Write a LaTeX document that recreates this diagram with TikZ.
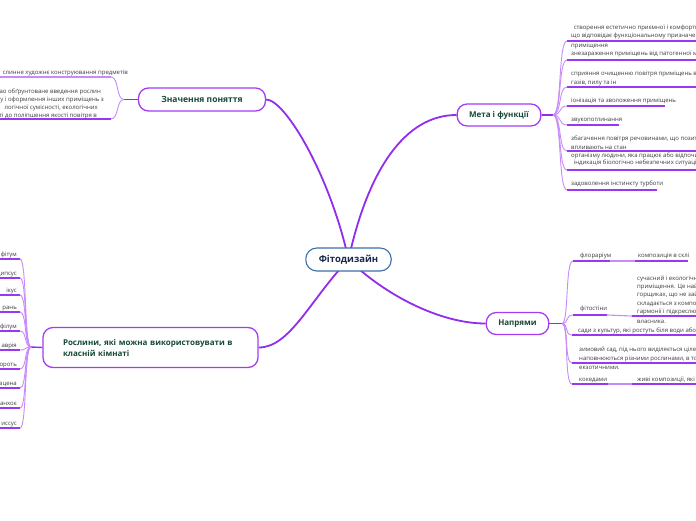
\documentclass[tikz,border=0pt]{standalone}
\usepackage{fontspec}
\setmainfont{Open Sans}
\usetikzlibrary{backgrounds}
\pgfdeclarelayer{bottom}
\pgfsetlayers{bottom,background,main}
\definecolor{mainline}{RGB}{145,45,235}
\definecolor{nodeborder}{RGB}{165,60,245}
\definecolor{fanline}{RGB}{200,140,250}
\definecolor{uline}{RGB}{155,55,240}
\definecolor{ttext}{RGB}{22,72,56}
\definecolor{ctext}{RGB}{25,40,75}
\definecolor{cborder}{RGB}{60,110,170}
\definecolor{leaftext}{RGB}{60,60,60}
\tikzset{
  topic/.style={draw=nodeborder, line width=1.3pt, fill=white, rounded corners=10pt,
    font=\fontsize{8}{11}\selectfont\bfseries, text=ttext, inner xsep=12pt, inner ysep=0pt,
    minimum height=22pt, align=center},
  central/.style={draw=cborder, line width=1.1pt, fill=white, rounded corners=11pt,
    font=\fontsize{9.5}{11}\selectfont\bfseries, text=ctext, inner xsep=13pt, inner ysep=0pt,
    minimum height=23pt},
  leaf/.style={inner sep=0pt, font=\fontsize{6}{9}\selectfont, text=leaftext},
  leafz/.style={inner sep=0pt, font=\fontsize{6}{9}\selectfont, text=leaftext},
  mainconn/.style={draw=mainline, line width=1.8pt},
  stem/.style={draw=mainline, line width=1.4pt},
  fanconn/.style={draw=fanline, line width=0.9pt},
  ulinestyle/.style={draw=uline, line width=1.4pt},
  faintline/.style={draw=fanline, line width=1.1pt},
}
\begin{document}
\begin{tikzpicture}[x=1pt,y=-1pt]
\useasboundingbox (0,0) rectangle (696,520);
\clip (0,0) rectangle (696,520);
\begin{pgfonlayer}{bottom}
  \fill[white] (0,0) rectangle (696,520);
\end{pgfonlayer}

% main nodes
\node[central] (c) at (348.5,259.5) {Фітодизайн};
\node[topic] (meta) at (499,115) {Мета і функції};
\node[topic, font=\fontsize{8.5}{11}\selectfont\bfseries, minimum width=127pt, minimum height=23pt] (znach) at (202,99.5) {Значення поняття};
\node[topic] (napr) at (517.5,323.5) {Напрями};
\node[topic, text width=175pt, inner xsep=20pt, align=left, minimum height=40pt] (rosl) at (150.5,347.5)
  {Рослини, які можна використовувати в\\класній кімнаті};

% junctions
\coordinate (jm) at (553,115);
\coordinate (jz) at (124,99.5);
\coordinate (jn) at (562,323.5);
\coordinate (jr) at (31,347);

% ---------- Мета і функції leaves
\node[leaf, anchor=base west] (m1a) at (572,29) {\ створення естетично приємної і комфортної};
\node[leaf, anchor=base west] (m1b) at (571,37.5) {що відповідає функціональному призначенню};
\node[leaf, anchor=base west] (m1c) at (571,47) {приміщення};
\node[leaf, anchor=base west] (m2) at (571,55) {знезараження приміщень від патогенної мікрофлори};
\node[leaf, anchor=base west] (m3a) at (571,75) {сприяння очищенню повітря приміщень від};
\node[leaf, anchor=base west] (m3b) at (571,84) {газів, пилу та ін};
\node[leaf, anchor=base west] (m4) at (571,102) {іонізація та зволоження приміщень};
\node[leaf, anchor=base west] (m5) at (571,121) {звукопоглинання};
\node[leaf, anchor=base west] (m6a) at (571,140.5) {збагачення повітря речовинами, що позитивно};
\node[leaf, anchor=base west] (m6b) at (571,149) {впливають на стан};
\node[leaf, anchor=base west] (m6c) at (571,157.5) {організму людини, яка працює або відпочиває};
\node[leaf, anchor=base west] (m7) at (572,164.5) {\ індикація біологічно небезпечних ситуацій};
\node[leaf, anchor=base west] (m8) at (571,185) {задоволення інстинкту турботи};

% ---------- Значення поняття leaves
\node[leafz, anchor=base east] (z1) at (128,74) {слинне художнє конструювання предметів};
\node[leafz, anchor=base east] (z2a) at (101,93) {ао обґрунтоване введення рослин};
\node[leafz, anchor=base east] (z2b) at (104,101) {у і оформлення інших приміщень з};
\node[leafz, anchor=base east] (z2c) at (98,109) {логічної сумісності, екологічних};
\node[leafz, anchor=base east] (z2d) at (97,117) {ті до поліпшення якості повітря в};

% ---------- Напрями leaves
\node[leaf, anchor=base west] (n1) at (580,257) {флораріум};
\node[leaf, anchor=base west] (n1r) at (638,257) {композиція в склі};
\node[leaf, anchor=base west] (n2) at (580,310) {фітостіни};
\node[leaf, anchor=base west] (n2a) at (637,280) {сучасний і екологічний};
\node[leaf, anchor=base west] (n2b) at (637,288.5) {приміщення. Це найкращий};
\node[leaf, anchor=base west] (n2c) at (637,296.5) {горщиках, що не займають};
\node[leaf, anchor=base west] (n2d) at (637,305) {складається з композицій};
\node[leaf, anchor=base west] (n2e) at (637,313) {гармонії і підкреслює};
\node[leaf, anchor=base west] (n2f) at (637,323) {власника.};
\node[leaf, anchor=base west] (n3) at (578,332) {сади з культур, які ростуть біля води або};
\node[leaf, anchor=base west] (n4a) at (579,351) {зимовий сад, під нього виділяється ціле};
\node[leaf, anchor=base west] (n4b) at (579,360) {наповнюються різними рослинами, в тому};
\node[leaf, anchor=base west] (n4c) at (579,369) {екзотичними.};
\node[leaf, anchor=base west] (n5) at (579,381) {кокедами};
\node[leaf, anchor=base west] (n5r) at (637,381) {живі композиції, які};

% ---------- Рослини leaves
\foreach \i/\y/\t in {1/259/фітум, 2/278/ципсус, 3/295/ікус, 4/312/рань, 5/331/філум,
                     6/350/аврія, 7/369/ороть, 8/388/ацена, 9/408/анхоє, 10/428/иссус} {
  \node[leaf, anchor=base east] (r\i) at (17,\y-2.5) {\t};
  \coordinate (r\i s) at (0,\y);
  \coordinate (r\i e) at (20,\y);
}

% underline coordinates: Мета
\foreach \i/\y/\xe in {1/41/696, 2/60/696, 3/87/696, 4/106/665, 5/125/619, 6/151/696, 7/170/696, 8/190/657} {
  \coordinate (m\i s) at (567,\y);
  \coordinate (m\i e) at (\xe,\y);
}
% underline coordinates: Значення
\coordinate (z1s) at (0,77);   \coordinate (z1e) at (111,77);
\coordinate (z2s) at (0,119);  \coordinate (z2e) at (111,119);
% underline coordinates: Напрями
\coordinate (n1s) at (573,261);  \coordinate (n1e) at (610,261);
\coordinate (n1rs) at (635,261); \coordinate (n1re) at (688,261);
\coordinate (n2s) at (573,315);  \coordinate (n2e) at (607,315);
\coordinate (n2rs) at (632,316); \coordinate (n2re) at (696,316);
\coordinate (n3s) at (572,335);  \coordinate (n3e) at (696,335);
\coordinate (n4s) at (572,363);  \coordinate (n4e) at (696,363);
\coordinate (n5s) at (572,384);  \coordinate (n5e) at (608,384);
\coordinate (n5rs) at (632,384); \coordinate (n5re) at (696,384);

\begin{pgfonlayer}{background}
  % main connectors
  \draw[mainconn] (c.center) .. controls (368,170) and (405,115) .. (meta.west);
  \draw[mainconn] (c.center) .. controls (330,175) and (285,99.5) .. (znach.east);
  \draw[mainconn] (c.center) .. controls (385,295) and (440,323.5) .. (napr.west);
  \draw[mainconn] (c.center) .. controls (310,300) and (290,347.5) .. (rosl.east);

  % stems
  \draw[stem] (meta.east) -- (jm);
  \draw[stem] (znach.west) -- (jz);
  \draw[stem] (napr.east) -- (jn);
  \draw[stem] (rosl.west) -- (jr);

  % Мета fan + underlines
  \foreach \i in {1,...,8} {
    \draw[fanconn] (jm) .. controls +(9,0) and +(-9,0) .. (m\i s);
    \draw[ulinestyle] (m\i s) -- (m\i e);
  }
  % Значення fan + underlines
  \draw[fanconn] (jz) .. controls +(-8,0) and +(8,0) .. (z1e);
  \draw[fanconn] (jz) .. controls +(-8,0) and +(8,0) .. (z2e);
  \draw[faintline] (z1s) -- (z1e);
  \draw[ulinestyle] (z2s) -- (z2e);
  % Напрями fan + underlines
  \foreach \k in {n1,n2,n3,n4,n5} {
    \draw[fanconn] (jn) .. controls +(7,0) and +(-8,0) .. (\k s);
    \draw[ulinestyle] (\k s) -- (\k e);
  }
  \draw[faintline] (n1e) -- (n1rs);
  \draw[ulinestyle] (n1rs) -- (n1re);
  \draw[faintline] (n2e) -- (n2rs);
  \draw[ulinestyle] (n2rs) -- (n2re);
  \draw[faintline] (n5e) -- (n5rs);
  \draw[ulinestyle] (n5rs) -- (n5re);
  % Рослини fan + underlines
  \foreach \i in {1,...,10} {
    \draw[fanconn] (jr) .. controls +(-7,0) and +(7,0) .. (r\i e);
    \draw[ulinestyle] (r\i s) -- (r\i e);
  }
\end{pgfonlayer}
\end{tikzpicture}
\end{document}
